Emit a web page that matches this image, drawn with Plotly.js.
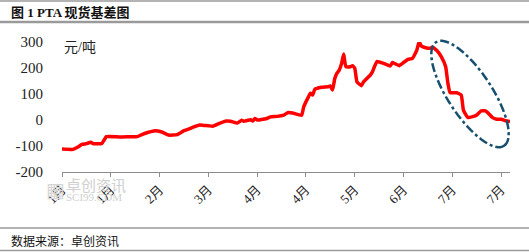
<!DOCTYPE html>
<html>
<head>
<meta charset="utf-8">
<script src="https://cdn.plot.ly/plotly-3.0.1.min.js"></script>
<style>html,body{margin:0;padding:0;background:#fff;}#chart{width:529px;height:252px;}</style>
</head>
<body>
<div id="chart"></div>
<script>
var dates = ['2023-01-06','2023-01-11','2023-01-13','2023-01-15','2023-01-17','2023-01-19','2023-01-20','2023-01-24','2023-01-25','2023-01-26',
'2023-02-01','2023-02-06','2023-02-09','2023-02-11','2023-02-14','2023-02-17','2023-02-20','2023-02-23','2023-02-25','2023-02-27',
'2023-03-02','2023-03-04','2023-03-06','2023-03-09','2023-03-11','2023-03-13','2023-03-15','2023-03-18','2023-03-21','2023-03-23','2023-03-26','2023-03-28','2023-03-29',
'2023-04-01','2023-04-02','2023-04-03','2023-04-04','2023-04-08','2023-04-10','2023-04-13','2023-04-16','2023-04-18','2023-04-20','2023-04-24','2023-04-25','2023-04-27','2023-04-28','2023-04-29','2023-04-30',
'2023-05-03','2023-05-06','2023-05-07','2023-05-08','2023-05-09','2023-05-10','2023-05-11','2023-05-12','2023-05-13','2023-05-14','2023-05-16','2023-05-17','2023-05-18','2023-05-19','2023-05-21','2023-05-22','2023-05-25','2023-05-26','2023-05-28','2023-05-31',
'2023-06-03','2023-06-04','2023-06-07','2023-06-09','2023-06-11','2023-06-13','2023-06-15','2023-06-16','2023-06-17','2023-06-19','2023-06-21','2023-06-22','2023-06-24','2023-06-26','2023-06-28','2023-06-29','2023-06-30',
'2023-07-03','2023-07-05','2023-07-06','2023-07-08','2023-07-11','2023-07-12','2023-07-14','2023-07-16','2023-07-18','2023-07-19','2023-07-21','2023-07-23','2023-07-25','2023-07-27'];

var basis = [-112,-113,-105,-94,-91,-86,-91,-90,-77,-64,
-65,-64,-64,-56,-47,-41,-46,-58,-58,-56,
-41,-35,-28,-19,-21,-22,-24,-13,-4,-5,-12,-1,-5,
1,-4,6,0,5,12,14,19,29,27,18,51,87,103,96,118,
126,128,131,115,160,180,192,215,254,205,205,209,199,147,132,147,173,186,225,218,
208,221,209,221,233,237,269,300,285,278,276,280,267,244,205,141,105,
105,96,38,10,15,19,35,35,19,10,3,3,-3,-6];

var xTickVals = ['2023-01-06','2023-01-28','2023-02-19','2023-03-13','2023-04-04','2023-04-26','2023-05-18','2023-06-09','2023-07-01','2023-07-23'];
var xTickText = ['1月','1月','2月','3月','4月','4月','5月','6月','7月','7月'];
var yTickVals = [-200,-100,0,100,200,300];
var yTickText = ['-200','-100','0','100','200','300'];

// plot area geometry (pixels)
var L = 62, T = 42, W = 448, H = 130;
function px(X){ return (X - L) / W; }
function py(Y){ return (T + H - Y) / H; }

// rotated dash-dot ellipse highlight
var cx = 470, cy = 94, ra = 62, rb = 22, ang = 56.7 * Math.PI / 180;
var pathStr = '';
for (var i = 0; i <= 72; i++) {
  var t = i / 72 * 2 * Math.PI;
  var ex = ra * Math.cos(t), ey = rb * Math.sin(t);
  var X = cx + ex * Math.cos(ang) - ey * Math.sin(ang);
  var Y = cy + ex * Math.sin(ang) + ey * Math.cos(ang);
  pathStr += (i === 0 ? 'M' : 'L') + px(X).toFixed(5) + ',' + py(Y).toFixed(5);
}
pathStr += 'Z';

var serif = 'Liberation Serif, "Noto Sans CJK SC", serif';
var cjk = '"Noto Sans CJK SC", sans-serif';

var trace = {
  x: dates, y: basis, type: 'scatter', mode: 'lines',
  line: {color: '#FF0000', width: 3.5, shape: 'spline', smoothing: 0.4},
  hoverinfo: 'skip'
};

function hline(Y, w, c){
  return {type:'line', xref:'paper', yref:'paper', x0:px(0), x1:px(529), y0:py(Y), y1:py(Y), line:{color:c, width:w}};
}

var layout = {
  width: 529, height: 252,
  margin: {l: L, r: 529 - L - W, t: T, b: 252 - T - H},
  paper_bgcolor: '#fff', plot_bgcolor: '#fff',
  showlegend: false,
  xaxis: {
    type: 'date', range: ['2023-01-06', '2023-07-27'],
    tickmode: 'array', tickvals: xTickVals, ticktext: xTickText,
    tickangle: -45, ticks: 'outside', ticklen: 4, tickcolor: '#8c8c8c',
    showline: true, linecolor: '#8c8c8c', linewidth: 1,
    showgrid: false, zeroline: false,
    tickfont: {family: serif, size: 13, color: '#222'}
  },
  yaxis: {
    range: [-200, 300], tickmode: 'array', tickvals: yTickVals, ticktext: yTickText,
    showline: false, showgrid: false, zeroline: false, ticks: '',
    ticklabelstandoff: 18,
    tickfont: {family: serif, size: 15, color: '#222'}
  },
  shapes: [
    hline(1, 1.5, '#9a9a9a'),
    hline(22, 2.5, '#9a9a9a'),
    hline(228, 1.5, '#9a9a9a'),
    hline(250.5, 1.5, '#9a9a9a'),
    {type:'path', xref:'paper', yref:'paper', path: pathStr,
     line:{color:'#17506E', width:2.5, dash:'dashdot'}, fillcolor:'rgba(0,0,0,0)'}
  ],
  annotations: [
    {xref:'paper', yref:'paper', x:px(9), y:py(12.5), xanchor:'left', yanchor:'middle', showarrow:false,
     text:'<b>图 1 PTA 现货基差图</b>', font:{family: 'Liberation Serif, "Noto Sans CJK SC"', size:13, color:'#111'}},
    {xref:'paper', yref:'paper', x:px(62), y:py(48), xanchor:'left', yanchor:'middle', showarrow:false,
     text:'元/吨', font:{family: serif, size:14, color:'#222'}},
    {xref:'paper', yref:'paper', x:px(9), y:py(240), xanchor:'left', yanchor:'middle', showarrow:false,
     text:'数据来源：卓创资讯', font:{family: cjk, size:12, color:'#111'}},
    {xref:'paper', yref:'paper', x:px(44), y:py(190), xanchor:'left', yanchor:'middle', showarrow:false,
     text:'▦', font:{family: 'DejaVu Sans', size:20, color:'#d6d6d6'}},
    {xref:'paper', yref:'paper', x:px(64), y:py(184), xanchor:'left', yanchor:'middle', showarrow:false,
     text:'卓创资讯', font:{family: cjk, size:15, color:'#d0d0d0'}},
    {xref:'paper', yref:'paper', x:px(64), y:py(197), xanchor:'left', yanchor:'middle', showarrow:false,
     text:'SCI99.COM', font:{family: 'Liberation Serif', size:11, color:'#d0d0d0'}}
  ]
};

Plotly.newPlot('chart', [trace], layout, {staticPlot: true, displayModeBar: false});
</script>
</body>
</html>
